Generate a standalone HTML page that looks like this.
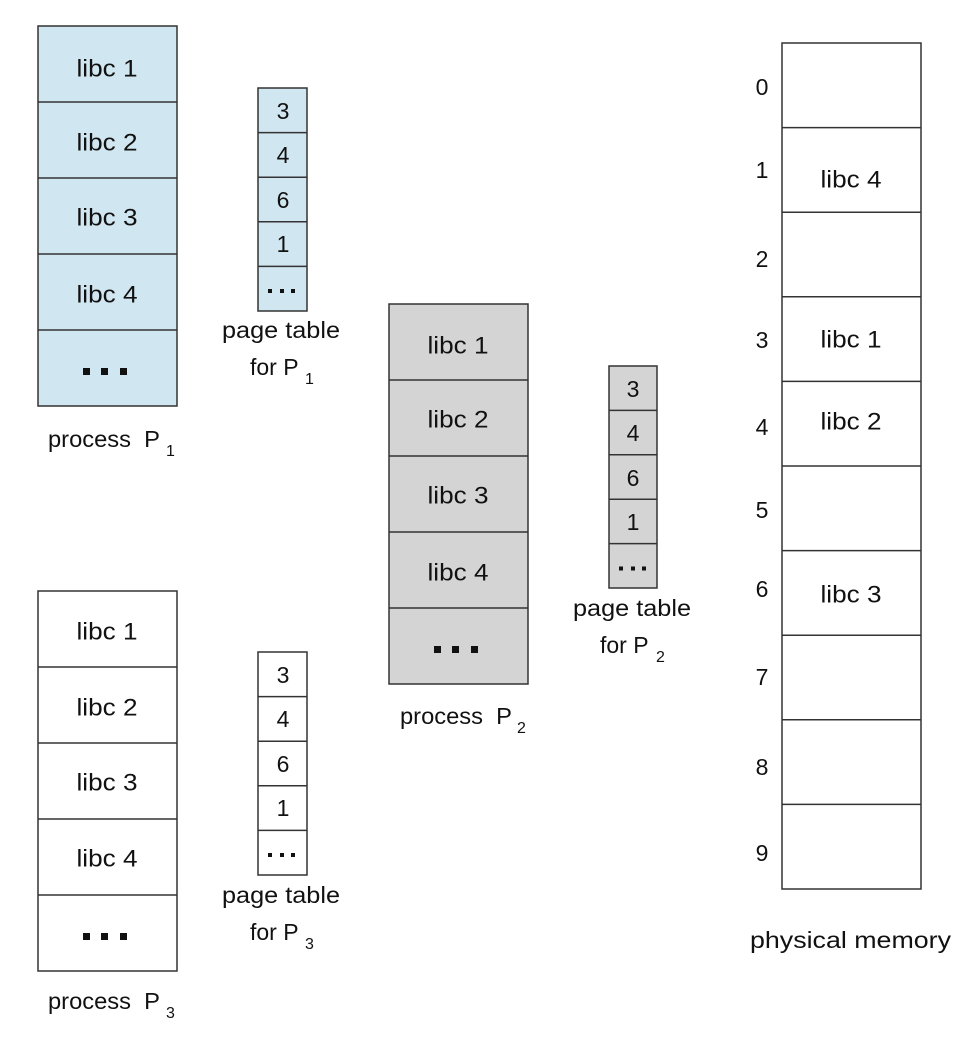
<!DOCTYPE html>
<html><head><style>body{margin:0;background:#fff}svg{display:block}text{font-family:"Liberation Sans",Arial,sans-serif;fill:#111}</style></head>
<body>
<svg width="972" height="1050" viewBox="0 0 972 1050" xmlns="http://www.w3.org/2000/svg">
<g stroke="#333" stroke-width="1.5">
<rect x="38" y="26" width="139" height="380" fill="#d0e6f0"/>
<line x1="38" y1="102" x2="177" y2="102"/><line x1="38" y1="178" x2="177" y2="178"/><line x1="38" y1="254" x2="177" y2="254"/><line x1="38" y1="330" x2="177" y2="330"/>
<rect x="258" y="88" width="49" height="223" fill="#d0e6f0"/>
<line x1="258" y1="132.6" x2="307" y2="132.6"/><line x1="258" y1="177.2" x2="307" y2="177.2"/><line x1="258" y1="221.8" x2="307" y2="221.8"/><line x1="258" y1="266.4" x2="307" y2="266.4"/>
<rect x="389" y="304" width="139" height="380" fill="#d4d4d4"/>
<line x1="389" y1="380" x2="528" y2="380"/><line x1="389" y1="456" x2="528" y2="456"/><line x1="389" y1="532" x2="528" y2="532"/><line x1="389" y1="608" x2="528" y2="608"/>
<rect x="609" y="366" width="48" height="222" fill="#d4d4d4"/>
<line x1="609" y1="410.4" x2="657" y2="410.4"/><line x1="609" y1="454.8" x2="657" y2="454.8"/><line x1="609" y1="499.2" x2="657" y2="499.2"/><line x1="609" y1="543.6" x2="657" y2="543.6"/>
<rect x="38" y="591" width="139" height="380" fill="#fff"/>
<line x1="38" y1="667" x2="177" y2="667"/><line x1="38" y1="743" x2="177" y2="743"/><line x1="38" y1="819" x2="177" y2="819"/><line x1="38" y1="895" x2="177" y2="895"/>
<rect x="258" y="652" width="49" height="223" fill="#fff"/>
<line x1="258" y1="696.6" x2="307" y2="696.6"/><line x1="258" y1="741.2" x2="307" y2="741.2"/><line x1="258" y1="785.8" x2="307" y2="785.8"/><line x1="258" y1="830.4" x2="307" y2="830.4"/>
<rect x="782" y="43" width="139" height="846" fill="#fff"/>
<line x1="782" y1="127.6" x2="921" y2="127.6"/><line x1="782" y1="212.2" x2="921" y2="212.2"/><line x1="782" y1="296.8" x2="921" y2="296.8"/><line x1="782" y1="381.4" x2="921" y2="381.4"/><line x1="782" y1="466" x2="921" y2="466"/><line x1="782" y1="550.6" x2="921" y2="550.6"/><line x1="782" y1="635.2" x2="921" y2="635.2"/><line x1="782" y1="719.8" x2="921" y2="719.8"/><line x1="782" y1="804.4" x2="921" y2="804.4"/>
</g>
<g fill="#111">
<rect x="83" y="368" width="7" height="7"/><rect x="101" y="368" width="7" height="7"/><rect x="120" y="368" width="7" height="7"/>
<rect x="434" y="646" width="7" height="7"/><rect x="452" y="646" width="7" height="7"/><rect x="471" y="646" width="7" height="7"/>
<rect x="83" y="933" width="7" height="7"/><rect x="101" y="933" width="7" height="7"/><rect x="120" y="933" width="7" height="7"/>
<rect x="268" y="289" width="4" height="4"/><rect x="280" y="289" width="4" height="4"/><rect x="291" y="289" width="4" height="4"/>
<rect x="619" y="566.5" width="4" height="4"/><rect x="631" y="566.5" width="4" height="4"/><rect x="642" y="566.5" width="4" height="4"/>
<rect x="268" y="853" width="4" height="4"/><rect x="280" y="853" width="4" height="4"/><rect x="291" y="853" width="4" height="4"/>
</g>
<g font-size="24" text-anchor="middle" dominant-baseline="central">
<text x="107" y="69" textLength="61" lengthAdjust="spacingAndGlyphs">libc 1</text><text x="107" y="143" textLength="61" lengthAdjust="spacingAndGlyphs">libc 2</text><text x="107" y="218" textLength="61" lengthAdjust="spacingAndGlyphs">libc 3</text><text x="107" y="295" textLength="61" lengthAdjust="spacingAndGlyphs">libc 4</text>
<text x="458" y="346" textLength="61" lengthAdjust="spacingAndGlyphs">libc 1</text><text x="458" y="420" textLength="61" lengthAdjust="spacingAndGlyphs">libc 2</text><text x="458" y="496" textLength="61" lengthAdjust="spacingAndGlyphs">libc 3</text><text x="458" y="573" textLength="61" lengthAdjust="spacingAndGlyphs">libc 4</text>
<text x="107" y="632" textLength="61" lengthAdjust="spacingAndGlyphs">libc 1</text><text x="107" y="708" textLength="61" lengthAdjust="spacingAndGlyphs">libc 2</text><text x="107" y="783" textLength="61" lengthAdjust="spacingAndGlyphs">libc 3</text><text x="107" y="859" textLength="61" lengthAdjust="spacingAndGlyphs">libc 4</text>
<text x="851" y="180" textLength="61" lengthAdjust="spacingAndGlyphs">libc 4</text><text x="851" y="340" textLength="61" lengthAdjust="spacingAndGlyphs">libc 1</text><text x="851" y="422" textLength="61" lengthAdjust="spacingAndGlyphs">libc 2</text><text x="851" y="595" textLength="61" lengthAdjust="spacingAndGlyphs">libc 3</text>
</g>
<g font-size="23" text-anchor="middle" dominant-baseline="central">
<text x="283" y="111">3</text><text x="283" y="155">4</text><text x="283" y="200">6</text><text x="283" y="244">1</text>
<text x="633" y="389">3</text><text x="633" y="433">4</text><text x="633" y="478">6</text><text x="633" y="522">1</text>
<text x="283" y="675">3</text><text x="283" y="719">4</text><text x="283" y="764">6</text><text x="283" y="808">1</text>
<text x="762" y="87">0</text><text x="762" y="170">1</text><text x="762" y="259">2</text><text x="762" y="340">3</text><text x="762" y="427">4</text><text x="762" y="510">5</text><text x="762" y="589">6</text><text x="762" y="677">7</text><text x="762" y="767">8</text><text x="762" y="853">9</text>
</g>
<g font-size="23">
<text x="222" y="338" textLength="118" lengthAdjust="spacingAndGlyphs">page table</text>
<text x="250" y="375">for P</text><text x="305" y="384" font-size="16">1</text>
<text x="48" y="447" textLength="112" lengthAdjust="spacingAndGlyphs" xml:space="preserve">process  P</text><text x="166" y="456" font-size="16">1</text>
<text x="573" y="616" textLength="118" lengthAdjust="spacingAndGlyphs">page table</text>
<text x="600" y="653">for P</text><text x="656" y="662" font-size="16">2</text>
<text x="400" y="724" textLength="112" lengthAdjust="spacingAndGlyphs" xml:space="preserve">process  P</text><text x="517" y="733" font-size="16">2</text>
<text x="222" y="903" textLength="118" lengthAdjust="spacingAndGlyphs">page table</text>
<text x="250" y="940">for P</text><text x="305" y="949" font-size="16">3</text>
<text x="48" y="1009" textLength="112" lengthAdjust="spacingAndGlyphs" xml:space="preserve">process  P</text><text x="166" y="1018" font-size="16">3</text>
<text x="750" y="948" textLength="201" lengthAdjust="spacingAndGlyphs">physical memory</text>
</g>
</svg>
</body></html>
